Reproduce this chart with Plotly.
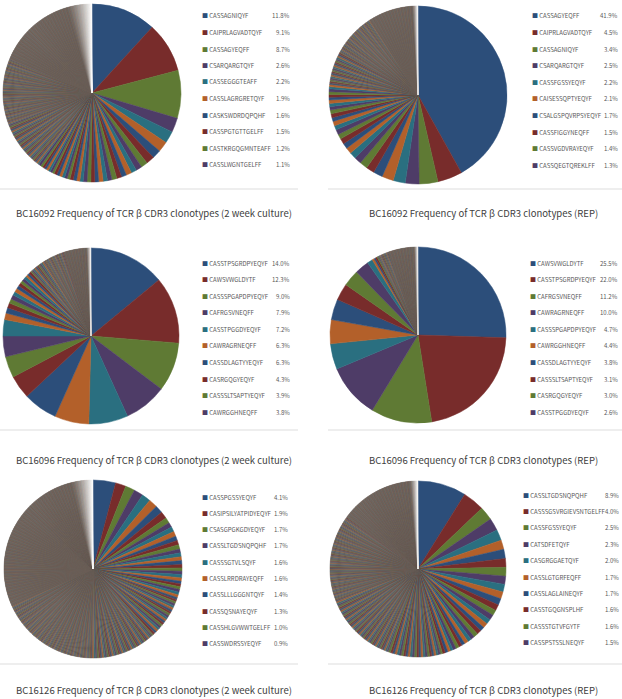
import plotly.graph_objects as go

W, H = 622, 699

# Excel-like dark accent colours used for the slices
base_colors = ['#2C4E7A', '#782C2B', '#5F7A34', '#4E3C67', '#2A6F80', '#B3602A']
tail_grey = '#6E625A'

# ---- BC16092, 2 week culture
c92_labels = ['CASSAGNIQYF', 'CAIPRLAGVADTQYF', 'CASSAGYEQFF', 'CSARQARGTQYF', 'CASSEGGGTEAFF',
              'CASSLAGRGRETQYF', 'CASKSWDRDQPQHF', 'CASSPGTGTTGELFF', 'CASTKRGQGMNTEAFF', 'CASSLWGNTGELFF']
c92_top = [11.8, 9.1, 8.7, 2.6, 2.2, 1.9, 1.6, 1.5, 1.2, 1.1]
c92_mid = [1.0, 1.0, 0.9, 0.9, 0.9, 0.8, 0.8, 0.8, 0.7, 0.7, 0.7, 0.7, 0.6, 0.6, 0.6,
           0.6, 0.5, 0.5, 0.5, 0.5, 0.5, 0.5, 0.4, 0.4, 0.4, 0.4, 0.4, 0.4, 0.4, 0.4]
c92_tail_freq = [0.3, 0.2, 0.1]
c92_tail_count = [30, 60, 188]

# ---- BC16092, REP
r92_labels = ['CASSAGYEQFF', 'CAIPRLAGVADTQYF', 'CASSAGNIQYF', 'CSARQARGTQYF', 'CASSFGSSYEQYF',
              'CAISESSQPTYEQYF', 'CSALGSPQVRPSYEQYF', 'CASSFIGGYNEQFF', 'CASSVGDVRAYEQYF', 'CASSQEGTQREKLFF']
r92_top = [41.9, 4.5, 3.4, 2.5, 2.2, 2.1, 1.7, 1.5, 1.4, 1.3]
r92_mid = [1.2, 1.1, 1.0, 1.0, 0.9, 0.9, 0.8, 0.8, 0.7, 0.7, 0.7, 0.6, 0.6, 0.6, 0.5,
           0.5, 0.5, 0.5, 0.4, 0.4]
r92_tail_freq = [0.3, 0.2, 0.1]
r92_tail_count = [20, 40, 91]

# ---- BC16096, 2 week culture
c96_labels = ['CASSTPSGRDPYEQYF', 'CAWSVWGLDYTF', 'CASSSPGAPDPYEQYF', 'CAFRGSVNEQFF', 'CASSTPGGDYEQYF',
              'CAWRAGRNEQFF', 'CASSDLAGTYYEQYF', 'CASRGQGYEQYF', 'CASSSLTSAPTYEQYF', 'CAWRGGHNEQFF']
c96_top = [14.0, 12.3, 9.0, 7.9, 7.2, 6.3, 6.3, 4.3, 3.9, 3.8]
c96_mid = [3.0, 1.2, 1.0, 0.9, 0.8, 0.8, 0.7, 0.7, 0.6, 0.6, 0.5, 0.5, 0.5, 0.4, 0.4, 0.4]
c96_tail_freq = [0.3, 0.2, 0.1]
c96_tail_count = [10, 20, 50]

# ---- BC16096, REP
r96_labels = ['CAWSVWGLDYTF', 'CASSTPSGRDPYEQYF', 'CAFRGSVNEQFF', 'CAWRAGRNEQFF', 'CASSSPGAPDPYEQYF',
              'CAWRGGHNEQFF', 'CASSDLAGTYYEQYF', 'CASSSLTSAPTYEQYF', 'CASRGQGYEQYF', 'CASSTPGGDYEQYF']
r96_top = [25.5, 22.0, 11.2, 10.0, 4.7, 4.4, 3.8, 3.1, 3.0, 2.6]
r96_mid = [1.0, 0.4, 0.3, 0.3, 0.2]
r96_tail_freq = [0.2, 0.1]
r96_tail_count = [10, 55]

# ---- BC16126, 2 week culture
c126_labels = ['CASSPGSSYEQYF', 'CASIPSILYATPIDYEQYF', 'CSASGPGKGDYEQYF', 'CASSLTGDSNQPQHF', 'CASSSGTVLSQYF',
               'CASSLRRDRAYEQFF', 'CASSLLLGGGNTQYF', 'CASSQSNAYEQYF', 'CASSHLGVWWTGELFF', 'CASSWDRSSYEQYF']
c126_top = [4.1, 1.9, 1.7, 1.7, 1.6, 1.6, 1.4, 1.3, 1.0, 0.9]
c126_mid = [0.9, 0.9, 0.8, 0.8, 0.8, 0.7, 0.7, 0.7, 0.7, 0.6, 0.6, 0.6, 0.6, 0.6, 0.5,
            0.5, 0.5, 0.5, 0.5, 0.5]
c126_tail_freq = [0.4, 0.3, 0.2, 0.1]
c126_tail_count = [20, 40, 90, 318]

# ---- BC16126, REP
r126_labels = ['CASSLTGDSNQPQHF', 'CASSSGSVRGIEVSNTGELFF', 'CASSFGSSYEQYF', 'CATSDFETQYF', 'CASGRGGAETQYF',
               'CASSLGTGRFEQFF', 'CASSLAGLAINEQYF', 'CASSTGQGNSPLHF', 'CASSSTGTVFGYTF', 'CASSPSTSSLNEQYF']
r126_top = [8.9, 4.0, 2.5, 2.3, 2.0, 1.7, 1.7, 1.6, 1.6, 1.5]
r126_mid = [1.4, 1.3, 1.2, 1.1, 1.0, 1.0, 0.9, 0.9, 0.8, 0.8, 0.8, 0.7, 0.7, 0.7, 0.6,
            0.6, 0.6, 0.6, 0.5, 0.5, 0.5, 0.5]
r126_tail_freq = [0.4, 0.3, 0.2, 0.1]
r126_tail_count = [25, 45, 80, 150]

TITLE = 'Frequency of TCR β CDR3 clonotypes'
panels = [
    dict(title=f'BC16092 {TITLE} (2 week culture)', labels=c92_labels, top=c92_top, mid=c92_mid,
         tf=c92_tail_freq, tc=c92_tail_count, cx=92, cy=93, r=89, lx=200, px=292, ly=16, dy=16.5,
         fade=0.955, tx=154, ty=213),
    dict(title=f'BC16092 {TITLE} (REP)', labels=r92_labels, top=r92_top, mid=r92_mid,
         tf=r92_tail_freq, tc=r92_tail_count, cx=418, cy=95, r=89, lx=530, px=620, ly=16, dy=16.6,
         fade=0.99, tx=483, ty=213),
    dict(title=f'BC16096 {TITLE} (2 week culture)', labels=c96_labels, top=c96_top, mid=c96_mid,
         tf=c96_tail_freq, tc=c96_tail_count, cx=91, cy=336, r=88, lx=200, px=292, ly=263, dy=16.6,
         fade=0.992, tx=154, ty=460),
    dict(title=f'BC16096 {TITLE} (REP)', labels=r96_labels, top=r96_top, mid=r96_mid,
         tf=r96_tail_freq, tc=r96_tail_count, cx=418, cy=335, r=88, lx=528, px=620, ly=263, dy=16.6,
         fade=0.993, tx=483, ty=460),
    dict(title=f'BC16126 {TITLE} (2 week culture)', labels=c126_labels, top=c126_top, mid=c126_mid,
         tf=c126_tail_freq, tc=c126_tail_count, cx=93, cy=569, r=89, lx=200, px=290, ly=497, dy=16.3,
         fade=0.96, tx=154, ty=690),
    dict(title=f'BC16126 {TITLE} (REP)', labels=r126_labels, top=r126_top, mid=r126_mid,
         tf=r126_tail_freq, tc=r126_tail_count, cx=418, cy=569, r=88, lx=521, px=621, ly=495, dy=16.4,
         fade=0.985, tx=483, ty=690),
]


def mix(hx, target, w):
    a = [int(hx[k:k + 2], 16) for k in (1, 3, 5)]
    b = [int(target[k:k + 2], 16) for k in (1, 3, 5)]
    r, g, bl = (round(x + (y - x) * w) for x, y in zip(a, b))
    return f'#{r:02X}{g:02X}{bl:02X}'


def fx(x):
    return x / W


def fy(y):
    return 1 - y / H


fig = go.Figure()
annotations = []
shapes = []

for p in panels:
    tail = []
    for f, n in zip(p['tf'], p['tc']):
        tail += [f] * n
    values = p['top'] + p['mid'] + tail
    n_head = len(p['top']) + len(p['mid'])
    total = sum(values)
    colors = []
    cum = 0
    for i, v in enumerate(values):
        pos = (cum + v / 2) / total
        cum += v
        c = base_colors[i % 6]
        if i >= n_head:
            # thin tail slices melt into a grey-brown, then fade to white at the end
            k = min(0.8, 0.2 + 2.0 * (0.4 - v))
            c = mix(c, tail_grey, k)
            if pos > p['fade']:
                w = ((pos - p['fade']) / (1 - p['fade'])) ** 1.3
                c = mix(c, '#FFFFFF', min(w, 1))
        colors.append(c)

    fig.add_trace(go.Pie(
        values=values,
        sort=False,
        direction='clockwise',
        rotation=0,
        textinfo='none',
        hoverinfo='skip',
        showlegend=False,
        marker=dict(colors=colors, line=dict(color=colors, width=0.5)),
        domain=dict(x=[fx(p['cx'] - p['r']), fx(p['cx'] + p['r'])],
                    y=[fy(p['cy'] + p['r']), fy(p['cy'] - p['r'])]),
    ))

    for i, (lab, v) in enumerate(zip(p['labels'], p['top'])):
        y = p['ly'] + i * p['dy']
        annotations.append(dict(
            x=fx(p['lx']), y=fy(y), xref='paper', yref='paper', xanchor='left', yanchor='middle',
            text=f'<span style="color:{base_colors[i % 6]}">■</span>\u2009{lab}', showarrow=False,
            font=dict(size=6, color='#595959')))
        annotations.append(dict(
            x=fx(p['px']), y=fy(y), xref='paper', yref='paper', xanchor='right', yanchor='middle',
            text=f'{v:.1f}%', showarrow=False, font=dict(size=6, color='#595959')))

    annotations.append(dict(
        x=fx(p['tx']), y=fy(p['ty']), xref='paper', yref='paper', xanchor='center', yanchor='middle',
        text=p['title'], showarrow=False, font=dict(size=9.5, color='#404040')))

# thin grey rules under each chart
for y in (189, 430, 664):
    shapes.append(dict(type='line', xref='paper', yref='paper', x0=0, x1=fx(298), y0=fy(y), y1=fy(y),
                       line=dict(color='#DDDDDD', width=1)))
    shapes.append(dict(type='line', xref='paper', yref='paper', x0=fx(328), x1=1, y0=fy(y), y1=fy(y),
                       line=dict(color='#DDDDDD', width=1)))

fig.update_layout(
    width=W, height=H,
    margin=dict(l=0, r=0, t=0, b=0),
    paper_bgcolor='white',
    plot_bgcolor='white',
    font=dict(family='Noto Sans CJK KR, Noto Sans, sans-serif'),
    annotations=annotations,
    shapes=shapes,
)

fig.write_html("out.html", config={'displayModeBar': False},
               post_script="document.body.style.margin='0';")
